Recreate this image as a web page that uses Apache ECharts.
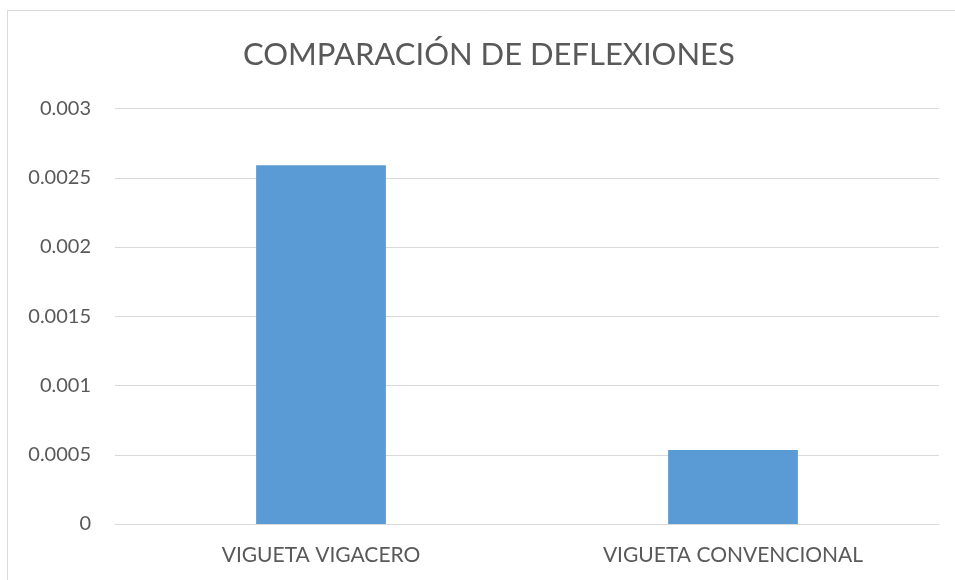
<!DOCTYPE html>
<html>
<head>
<meta charset="utf-8">
<script src="https://cdn.jsdelivr.net/npm/echarts@6/dist/echarts.min.js"></script>
<style>
  html, body { margin: 0; padding: 0; background: #fff; }
  #chart { width: 955px; height: 580px; }
</style>
</head>
<body>
<div id="chart"></div>
<script>
const categories = ['VIGUETA VIGACERO', 'VIGUETA CONVENCIONAL']
const deflexiones = [0.00259, 0.000534]
const yTicks = [0, 0.0005, 0.001, 0.0015, 0.002, 0.0025, 0.003]

const myChart = echarts.init(document.getElementById('chart'))
const txt = '#595959'
const font = 'Lato, "Open Sans", sans-serif'

const option = {
  backgroundColor: '#fff',
  animation: false,
  title: {
    text: 'COMPARACIÓN DE DEFLEXIONES',
    left: 243,
    top: 39,
    padding: 0,
    textStyle: { color: txt, fontSize: 31, fontWeight: 'normal', fontFamily: font }
  },
  graphic: [{
    type: 'rect',
    shape: { x: 7.5, y: 10.5, width: 1000, height: 700 },
    style: { fill: 'none', stroke: '#d9d9d9', lineWidth: 1 },
    silent: true
  }],
  grid: { left: 115, right: 16, top: 108.5, bottom: 56 },
  xAxis: {
    type: 'category',
    data: categories,
    axisTick: { show: false },
    axisLine: { show: true, lineStyle: { color: '#d9d9d9', width: 1 } },
    axisLabel: { color: txt, fontSize: 21, fontFamily: font, margin: 21 }
  },
  yAxis: {
    type: 'value',
    min: yTicks[0],
    max: yTicks[yTicks.length - 1],
    interval: 0.0005,
    axisLine: { show: false },
    axisTick: { show: false },
    splitLine: { lineStyle: { color: '#d9d9d9', width: 1 } },
    axisLabel: {
      color: txt, fontSize: 20, fontFamily: font, margin: 24,
      formatter: v => String(parseFloat(v.toFixed(4)))
    }
  },
  series: [{
    type: 'bar',
    data: deflexiones,
    barWidth: '31.5%',
    itemStyle: { color: '#5b9bd5' }
  }]
}
myChart.setOption(option)
</script>
</body>
</html>
